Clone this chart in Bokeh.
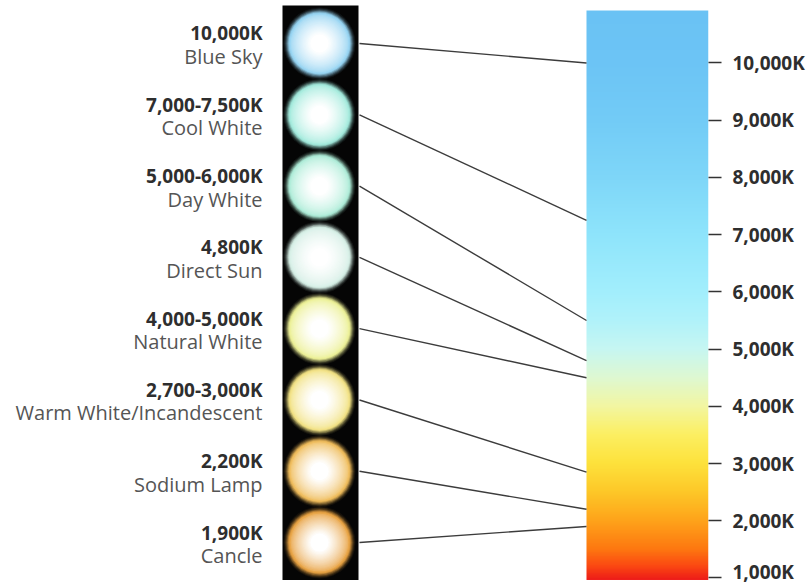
import numpy as np
from bokeh.plotting import figure
from bokeh.models import FixedTicker, ColumnDataSource
from bokeh.embed import file_html
from bokeh.resources import INLINE
from bokeh.core.properties import value

# ---------------- data ----------------
range_labels = ["10,000K", "7,000-7,500K", "5,000-6,000K", "4,800K",
                "4,000-5,000K", "2,700-3,000K", "2,200K", "1,900K"]
source_names = ["Blue Sky", "Cool White", "Day White", "Direct Sun",
                "Natural White", "Warm White/Incandescent", "Sodium Lamp", "Cancle"]
kelvin_low = [10000, 7000, 5000, 4800, 4000, 2700, 2200, 1900]
kelvin_high = [10000, 7500, 6000, 4800, 5000, 3000, 2200, 1900]
glow_colors = ["#96d4f2", "#a2eadc", "#aeecd8", "#d6efe6",
               "#ecf096", "#f2e284", "#efbc5a", "#e8a242"]
axis_ticks = [1000, 2000, 3000, 4000, 5000, 6000, 7000, 8000, 9000, 10000]
tick_labels = ["1,000K", "2,000K", "3,000K", "4,000K", "5,000K",
               "6,000K", "7,000K", "8,000K", "9,000K", "10,000K"]

# gradient stops of the colour-temperature bar (Kelvin -> colour)
grad_k = [965, 1200, 1500, 2000, 2500, 3000, 3500, 4000, 4500, 5000, 5500,
          6000, 7000, 8000, 9000, 10000, 10917]
grad_c = ["#ee1c18", "#fb4812", "#fd7810", "#fea41a", "#fdc828", "#fde23c",
          "#fcef62", "#f2f6a2", "#def8d2", "#c6f6f2", "#b0f2fa", "#a2eefc",
          "#8ee4fb", "#7ed6f8", "#72cbf6", "#6cc4f5", "#6ac2f4"]

# ---------------- layout constants ----------------
K_MIN, K_MAX = 886, 11092
X_MAX = 708
SLOT_TOP, SLOT_STEP = 10341, 1246
STRIP_L, STRIP_R, STRIP_TOP, CIRCLE_X = 282, 358, 11005, 319
BAR_L, BAR_R = 586, 708
LABEL_X = 262

p = figure(width=808, height=584, x_range=(0, X_MAX), y_range=(K_MIN, K_MAX),
           x_axis_location=None, y_axis_location="right",
           output_backend="svg", toolbar_location=None,
           min_border_left=0, min_border_top=0, min_border_bottom=0,
           min_border_right=100)
p.outline_line_color = None
p.grid.visible = False
p.background_fill_color = "white"


def hex2rgb(h):
    return np.array([int(h[i:i + 2], 16) for i in (1, 3, 5)], dtype=float)


# colour bar as a vertical gradient image
stops = np.array([hex2rgb(c) for c in grad_c])
n_rows = 700
ks = np.linspace(grad_k[0], grad_k[-1], n_rows)
img = np.zeros((n_rows, 1), dtype=np.uint32)
view = img.view(dtype=np.uint8).reshape((n_rows, 1, 4))
for j in range(3):
    view[:, 0, j] = np.round(np.interp(ks, grad_k, stops[:, j])).astype(np.uint8)
view[:, 0, 3] = 255
p.image_rgba(image=[img], x=BAR_L, y=grad_k[0], dw=BAR_R - BAR_L,
             dh=grad_k[-1] - grad_k[0])

# black strip
p.quad(left=[STRIP_L], right=[STRIP_R], bottom=[grad_k[0]], top=[STRIP_TOP],
       fill_color="#050505", line_color=None)

slot_y = [SLOT_TOP - i * SLOT_STEP for i in range(len(source_names))]
target_k = [(a + b) / 2 for a, b in zip(kelvin_low, kelvin_high)]

# connecting lines
p.segment(x0=[STRIP_R + 1] * len(slot_y), y0=slot_y,
          x1=[BAR_L] * len(slot_y), y1=target_k,
          line_color="#3c3c3c", line_width=1.4)

# glowing lamps: soft halo + smooth colour-to-white core
layers = [(72, 0.0, 0.07), (70, 0.0, 0.12), (68, 0.0, 0.2), (66, 0.0, 0.32),
          (64, 0.0, 0.5), (62, 0.0, 0.8)]
for k in range(18):
    frac = k / 17
    layers.append((60 - frac * 42, 0.05 + 0.95 * frac ** 0.7, 1.0))
for size, w, a in layers:
    fc = []
    for c in glow_colors:
        rgb = hex2rgb(c) * (1 - w) + 255 * w
        fc.append("#%02x%02x%02x" % tuple(int(round(v)) for v in rgb))
    p.scatter(x=[CIRCLE_X] * len(slot_y), y=slot_y, size=size, fill_color=fc,
              fill_alpha=a, line_color=None)

# left labels
lab_src = ColumnDataSource(dict(y=slot_y, rng=range_labels, name=source_names,
                                x=[LABEL_X] * len(slot_y)))
p.text(x="x", y="y", text="rng", source=lab_src, text_align="right",
       text_baseline="middle", y_offset=-10, text_font=value("Open Sans"),
       text_font_style="bold", text_font_size="19px", text_color="#2e2e2e")
p.text(x="x", y="y", text="name", source=lab_src, text_align="right",
       text_baseline="middle", y_offset=13, text_font=value("Open Sans"),
       text_font_size="20px", text_color="#555555")

# right axis
ax = p.yaxis[0]
ax.ticker = FixedTicker(ticks=axis_ticks)
ax.major_label_overrides = {t: l for t, l in zip(axis_ticks, tick_labels)}
ax.axis_line_color = None
ax.major_tick_in = 0
ax.major_tick_out = 13
ax.major_tick_line_color = "#333333"
ax.major_tick_line_width = 1.5
ax.minor_tick_line_color = None
ax.major_label_standoff = 11
ax.major_label_text_font = "Open Sans"
ax.major_label_text_font_style = "bold"
ax.major_label_text_font_size = "19px"
ax.major_label_text_color = "#2e2e2e"

open("out.html", "w").write(file_html(p, INLINE))
